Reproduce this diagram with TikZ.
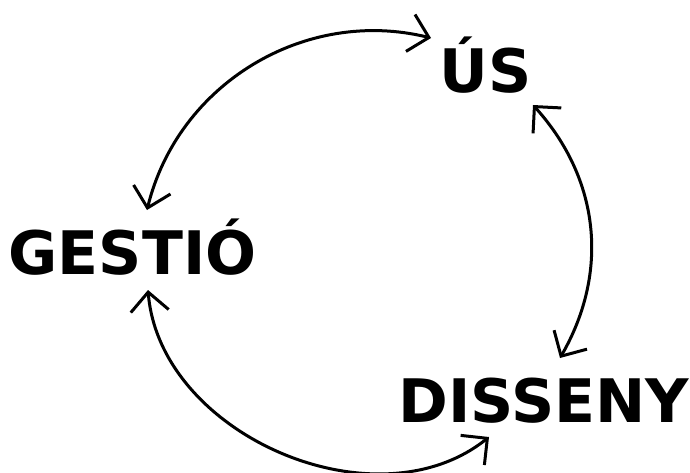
\documentclass[tikz,border=0pt]{standalone}
\usepackage{fontspec}
\setmainfont{DejaVu Sans}
\usetikzlibrary{arrows.meta}
\tikzset{
  lbl/.style={font=\bfseries\fontsize{60}{72}\selectfont, anchor=base, inner sep=0pt},
  cyc/.style={line width=3pt, {Straight Barb[length=19pt,width=38pt]}-{Straight Barb[length=19pt,width=38pt]}}
}
\begin{document}
\begin{tikzpicture}[x=1pt,y=1pt]
\useasboundingbox (0,0) rectangle (690,472);
\node[lbl] (us) at (485.5,379) {ÚS};
\node[lbl] (gestio) at (132.5,198) {GESTIÓ};
\node[lbl] (disseny) at (544,50) {DISSENY};
\coordinate (g1) at (147,262);
\coordinate (u1) at (431,434);
\coordinate (u2) at (533,367);
\coordinate (d1) at (560,114);
\coordinate (g2) at (148,182);
\coordinate (d2) at (489,35);
\draw[cyc] (g1) to[bend left=45] (u1);
\draw[cyc] (u2) to[bend left=36] (d1);
\draw[cyc] (g2) to[bend right=62] (d2);
\end{tikzpicture}
\end{document}
